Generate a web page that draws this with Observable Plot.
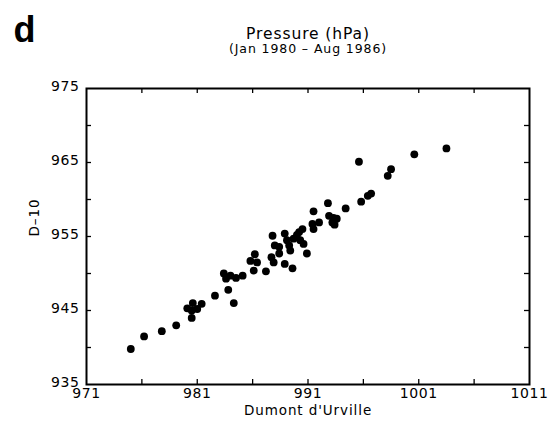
<!DOCTYPE html>
<html>
<head>
<meta charset="utf-8">
<script src="https://cdn.jsdelivr.net/npm/d3@7"></script>
<script src="https://cdn.jsdelivr.net/npm/@observablehq/plot@0.6"></script>
<style>
  html, body { margin: 0; padding: 0; background: #fff; }
  svg { font-family: "DejaVu Sans", sans-serif; }
</style>
</head>
<body>
<div id="chart"></div>
<script>
// Dumont d'Urville pressure (hPa), x values
const dumont = [975.0, 976.2, 977.8, 979.1, 980.5, 980.1, 980.6, 981.0, 981.4, 980.5,
  982.6, 983.8, 984.3, 983.4, 983.6, 984.0, 984.5, 985.1, 986.1, 987.2,
  985.8, 986.2, 986.4, 987.8, 987.7, 987.9, 988.4, 988.4, 988.9, 989.6,
  988.9, 989.1, 989.3, 989.4, 989.7, 990.2, 990.3, 990.5, 990.6, 990.9,
  991.5, 991.4, 992.0, 991.5, 992.8, 992.9, 993.3, 993.6, 993.2, 993.4,
  994.4, 995.6, 995.8, 996.4, 996.7, 998.2, 998.5, 1000.6, 1003.5, 990.0, 988.0];
// D-10 pressure (hPa), y values
const d10 = [939.8, 941.5, 942.2, 943.0, 944.0, 945.3, 946.0, 945.2, 945.9, 945.0,
  947.0, 947.8, 946.0, 950.0, 949.3, 949.7, 949.4, 949.7, 950.4, 950.3,
  951.7, 952.6, 951.5, 955.1, 952.2, 951.5, 952.7, 953.6, 951.3, 950.7,
  955.4, 954.5, 953.8, 953.1, 954.7, 955.6, 954.5, 956.0, 954.0, 952.7,
  958.4, 956.7, 956.9, 956.0, 959.5, 957.8, 957.5, 957.4, 956.9, 956.6,
  958.8, 965.1, 959.7, 960.5, 960.8, 963.2, 964.1, 966.1, 966.9, 955.2, 953.8];

const xLabelTicks = [971, 981, 991, 1001, 1011];
const yLabelTicks = [935, 945, 955, 965, 975];
const xMinorTicks = [976, 981, 986, 991, 996, 1001, 1006];
const yMinorTicks = [940, 945, 950, 955, 960, 965, 970];

const points = dumont.map((x, i) => ({x, y: d10[i]}));

const W = 554, H = 429;
const mL = 86, mR = 25, mT = 88, mB = 45;
const plotW = W - mL - mR, plotH = H - mT - mB;
const tickLen = 5;
const fmt = d3.format("d");

const chart = Plot.plot({
  width: W,
  height: H,
  marginLeft: mL,
  marginRight: mR,
  marginTop: mT,
  marginBottom: mB,
  style: {fontFamily: "DejaVu Sans, sans-serif", color: "#000", background: "#fff"},
  x: {domain: [971, 1011]},
  y: {domain: [935, 975]},
  marks: [
    Plot.axisX({ticks: xLabelTicks, tickFormat: fmt, tickSize: 0, tickPadding: 4, label: null, fontSize: 14}),
    Plot.axisY({ticks: yLabelTicks, tickFormat: fmt, tickSize: 0, tickPadding: 7, dy: -2, label: null, fontSize: 14}),
    // inward ticks on all four sides
    Plot.tickX(xMinorTicks, {x: d => d, insetTop: plotH - tickLen, stroke: "#000", strokeWidth: 1.3}),
    Plot.tickX(xMinorTicks, {x: d => d, insetBottom: plotH - tickLen, stroke: "#000", strokeWidth: 1.3}),
    Plot.tickY(yMinorTicks, {y: d => d, insetRight: plotW - tickLen, stroke: "#000", strokeWidth: 1.3}),
    Plot.tickY(yMinorTicks, {y: d => d, insetLeft: plotW - tickLen, stroke: "#000", strokeWidth: 1.3}),
    Plot.frame({stroke: "#000", strokeWidth: 2}),
    Plot.dot(points, {x: "x", y: "y", r: 3.9, fill: "#000", stroke: "none"}),
    // titles & labels
    Plot.text(["Pressure (hPa)"], {frameAnchor: "top", dy: -61, fontSize: 15.5, fill: "#000", className: "spaced"}),
    Plot.text(["(Jan 1980 \u2013 Aug 1986)"], {frameAnchor: "top", dy: -44, fontSize: 12.5, fill: "#000", className: "spaced"}),
    Plot.text(["Dumont d'Urville"], {frameAnchor: "bottom", dy: 30, fontSize: 13.5, fill: "#000", className: "spaced"}),
    Plot.text(["D\u201310"], {frameAnchor: "left", dx: -52, rotate: -90, fontSize: 13.5, fill: "#000", className: "spaced"}),
    Plot.text(["d"], {frameAnchor: "top-left", dx: -62, dy: -72, fontSize: 36, fontWeight: "bold",
      fontFamily: "Liberation Sans, Arial, sans-serif", textAnchor: "middle", fill: "#000"})
  ]
});
d3.select(chart).selectAll(".spaced text").attr("letter-spacing", "0.9px");
d3.select(chart).selectAll("[aria-label^='x-axis tick label'] text, [aria-label^='y-axis tick label'] text").attr("letter-spacing", "0.6px");
document.getElementById("chart").appendChild(chart);
</script>
</body>
</html>
